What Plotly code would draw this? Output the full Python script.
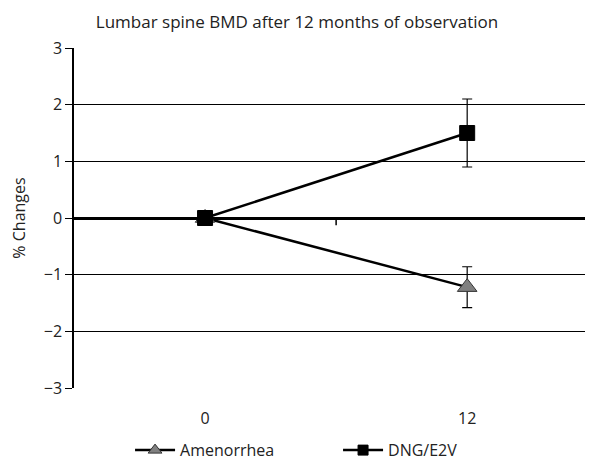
import plotly.graph_objects as go

categories = ["0", "12"]
amen_values = [0.0, -1.22]
amen_err = [0.0, 0.36]
dng_values = [0.0, 1.5]
dng_err = [0.0, 0.6]
y_ticks = [-3, -2, -1, 0, 1, 2, 3]
y_labels = ["\u22123", "\u22122", "\u22121", "0", "1", "2", "3"]
series_names = ["Amenorrhea", "DNG/E2V"]

FONT = "Open Sans"
TXT = "#222222"

amen_marker = dict(symbol="triangle-up", size=17, color="#808080",
                   line=dict(color="#333333", width=1))
dng_marker = dict(symbol="square", size=15, color="black",
                  line=dict(color="black", width=1))

fig = go.Figure()
fig.add_trace(go.Scatter(
    x=[0, 1], y=amen_values, name=series_names[0], mode="lines+markers",
    line=dict(color="black", width=2.5), marker=amen_marker, showlegend=False,
    error_y=dict(type="data", array=amen_err, visible=True, color="black",
                 thickness=1.2, width=5),
))
fig.add_trace(go.Scatter(
    x=[0, 1], y=dng_values, name=series_names[1], mode="lines+markers",
    line=dict(color="black", width=2.5), marker=dng_marker, showlegend=False,
    error_y=dict(type="data", array=dng_err, visible=True, color="black",
                 thickness=1.2, width=5),
))
# legend-only entries with smaller symbols
fig.add_trace(go.Scatter(
    x=[None], y=[None], name=series_names[0], mode="lines+markers",
    line=dict(color="black", width=2.5),
    marker=dict(symbol="triangle-up", size=12, color="#808080",
                line=dict(color="#333333", width=1)),
))
fig.add_trace(go.Scatter(
    x=[None], y=[None], name=series_names[1], mode="lines+markers",
    line=dict(color="black", width=2.5),
    marker=dict(symbol="square", size=10, color="black",
                line=dict(color="black", width=1)),
))

# category-boundary tick on the zero line
fig.add_shape(type="line", xref="x", yref="y", x0=0.5, x1=0.5, y0=0, y1=-0.13,
              line=dict(color="black", width=1.5), layer="above")

fig.update_layout(
    width=585, height=466,
    margin=dict(l=66, r=0, t=40, b=86),
    paper_bgcolor="white", plot_bgcolor="white",
    font=dict(family=FONT, size=16, color=TXT),
    title=dict(text="Lumbar spine BMD after 12 months of observation",
               x=0.494, xanchor="center", y=1 - 14 / 466, yanchor="middle",
               font=dict(family=FONT, size=17, color=TXT)),
    showlegend=True,
    legend=dict(orientation="h", x=0.108, xanchor="left", y=-0.183, yanchor="middle",
                font=dict(family=FONT, size=16, color=TXT),
                entrywidth=153, entrywidthmode="pixels", itemwidth=40,
                bgcolor="rgba(0,0,0,0)"),
    xaxis=dict(range=[-0.5, 1.48], tickmode="array", tickvals=[0, 1],
               ticktext=categories, showgrid=False, zeroline=False,
               showline=False, ticks="outside", ticklen=16,
               tickcolor="rgba(0,0,0,0)", tickfont=dict(size=16, color=TXT)),
    yaxis=dict(range=[-3, 3], tickmode="array", tickvals=y_ticks,
               ticktext=y_labels, showgrid=True, gridcolor="black", gridwidth=1,
               zeroline=True, zerolinecolor="black", zerolinewidth=2.5,
               showline=True, linecolor="black", linewidth=1.5,
               ticks="outside", ticklen=7, tickcolor="black",
               tickfont=dict(size=16, color=TXT),
               title=dict(text="% Changes", standoff=14,
                          font=dict(size=16, color=TXT))),
)

fig.write_html("out.html")
